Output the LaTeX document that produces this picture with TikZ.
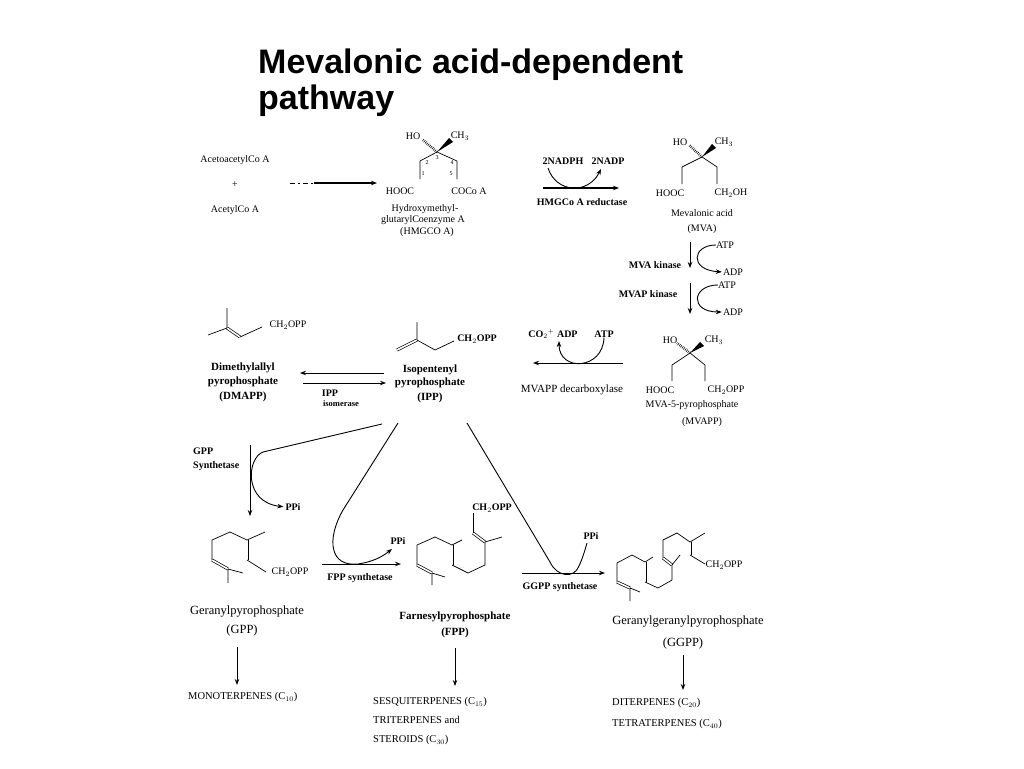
\documentclass[tikz,border=0pt]{standalone}
\usepackage{fontspec}
\setmainfont{Liberation Serif}
\newfontfamily\titlefont{Liberation Sans}
\usetikzlibrary{arrows.meta}

\begin{document}
\begin{tikzpicture}[x=1pt,y=-1pt,>={Stealth[length=6pt,width=4.5pt]},
  lab/.style={inner sep=0pt,font=\fontsize{10}{12}\selectfont},
  blab/.style={inner sep=0pt,font=\fontsize{10}{12}\selectfont\bfseries},
  cname/.style={inner sep=0pt,font=\fontsize{12.5}{14}\selectfont},
  bname/.style={inner sep=0pt,font=\fontsize{11}{13}\selectfont\bfseries},
  prod/.style={inner sep=0pt,anchor=west,font=\fontsize{10.5}{12}\selectfont},
  numlab/.style={inner sep=0pt,font=\fontsize{6}{6}\selectfont},
  bond/.style={line width=0.7pt,line join=round},
  dbl/.style={bond,double,double distance=1.6pt},
  hash/.style={line width=2.6pt,dash pattern=on 0.6pt off 1.2pt},
  rxn/.style={line width=0.9pt}]
\useasboundingbox[fill=white] (0,0) rectangle (1024,768);

% title
\node[anchor=base west,inner sep=0pt,font=\titlefont\bfseries\fontsize{34}{36}\selectfont] (title1) at (258,73) {Mevalonic acid-dependent};
\node[anchor=base west,inner sep=0pt,font=\titlefont\bfseries\fontsize{34}{36}\selectfont] (title2) at (258,109) {pathway};

% plain labels
\foreach \x/\y/\n/\t in {235/160/acac/AcetoacetylCo A, 235/185/plus/+, 235/210/acet/AcetylCo A,
    413/136/hmgho/HO, 460/136/hmgme/CH$_3$, 400/191/hmgl/HOOC, 469/191/hmgr/COCo A,
    425/209/hmgn1/Hydroxymethyl-, 423/220/hmgn2/glutarylCoenzyme A, 427/232/hmgn3/(HMGCO A),
    680/142/mvaho/HO, 724/142/mvame/CH$_3$, 670/193/mval/HOOC, 731/193/mvar/CH$_2$OH,
    702/213/mvan1/Mevalonic acid, 702/229/mvan2/(MVA),
    725/245/atp1/ATP, 733/272/adp1/ADP, 727/285/atp2/ATP, 733/312/adp2/ADP,
    670/340/mvppho/HO, 714/340/mvppme/CH$_3$, 660/390/mvppl/HOOC, 726/390/mvppr/CH$_2$OPP,
    692/405/mvppn1/MVA-5-pyrophosphate, 702/422/mvppn2/(MVAPP),
    288/325/dmch/CH$_2$OPP, 290/572/gpch/CH$_2$OPP, 724/565/ggch/CH$_2$OPP}
  \node[lab] (\n) at (\x,\y) {\t};
\node[lab,font=\fontsize{11}{12}\selectfont] (dec) at (572,390) {MVAPP decarboxylase};

% bold labels
\foreach \x/\y/\n/\t in {563/161/nadph/2NADPH, 608/161/nadp/2NADP, 582/202/red/HMGCo A reductase,
    655/265/kin1/MVA kinase, 648/294/kin2/MVAP kinase,
    553/334/co2/CO$_2$$^+$ ADP, 604/334/atp3/ATP,
    477/339/ipch/CH$_2$OPP, 330/393/iso1/IPP, 293/507/ppi1/PPi,
    398/541/ppi2/PPi, 360/578/fs/FPP synthetase, 492/508/fpch/CH$_2$OPP,
    591/536/ppi3/PPi, 560/587/ggs/GGPP synthetase}
  \node[blab] (\n) at (\x,\y) {\t};
\node[blab,font=\fontsize{8.5}{10}\selectfont\bfseries] (iso2) at (341,404) {isomerase};
\node[blab,anchor=west] (gs1) at (193,451) {GPP};
\node[blab,anchor=west] (gs2) at (193,466) {Synthetase};

% compound names
\foreach \x/\y/\n/\t in {243/368/dmn1/Dimethylallyl, 243/382/dmn2/pyrophosphate, 243/397/dmn3/(DMAPP),
    430/370/ipn1/Isopentenyl, 430/383/ipn2/pyrophosphate, 430/398/ipn3/(IPP),
    455/617/fpn1/Farnesylpyrophosphate, 455/633/fpn2/(FPP)}
  \node[bname] (\n) at (\x,\y) {\t};
\foreach \x/\y/\n/\t in {247/612/gpn1/Geranylpyrophosphate, 242/630/gpn2/(GPP),
    688/622/ggn1/Geranylgeranylpyrophosphate, 683/643/ggn2/(GGPP)}
  \node[cname] (\n) at (\x,\y) {\t};

% products
\foreach \x/\y/\n/\t in {188/697/mono/MONOTERPENES (C$_{10}$), 373/702/sesq/SESQUITERPENES (C$_{15}$),
    373/720/tri/TRITERPENES and, 373/740/ster/STEROIDS (C$_{30}$),
    612/703/di/DITERPENES (C$_{20}$), 612/724/tetra/TETRATERPENES (C$_{40}$)}
  \node[prod] (\n) at (\x,\y) {\t};

% HMGCoA numbering
\foreach \x/\y/\t in {427/163/2, 437/158/3, 452/163/4, 423/174/1, 451/174/5}
  \node[numlab] at (\x,\y) {\t};

% HMGCoA
\coordinate (hmg3) at (437,152);
\draw[bond] (420,179) -- (420,161) -- (hmg3) -- (457,161) -- (457,179);
\draw[hash] (hmg3) -- (423,140);
\fill (hmg3) -- (453,142) -- (449,138) -- cycle;

% mevalonic acid
\coordinate (mva3) at (702,157);
\draw[bond] (682,184) -- (682,167) -- (mva3) -- (717,167) -- (717,184);
\draw[hash] (mva3) -- (689,145);
\fill (mva3) -- (716,148) -- (712,144) -- cycle;

% MVAPP
\coordinate (mvpp3) at (690,353);
\draw[bond] (672,381) -- (672,365) -- (mvpp3) -- (705,365) -- (705,381);
\draw[hash] (mvpp3) -- (677,343);
\fill (mvpp3) -- (704,346) -- (700,342) -- cycle;

% DMAPP
\draw[dbl] (227,328) -- (240,337);
\draw[bond] (208,335) -- (227,328) -- (227,308);
\draw[bond] (240,337) -- (262,327);

% IPP
\draw[dbl] (397,350) -- (417,340);
\draw[bond] (417,322) -- (417,340) -- (435,350) -- (454,341);

% GPP
\draw[dbl] (247,560) -- (247,540);
\draw[dbl] (212,560) -- (228,569);
\draw[bond] (266,572) -- (247,560);
\draw[bond] (265,532) -- (247,540) -- (230,532) -- (212,540) -- (212,560);
\draw[bond] (243,573) -- (228,569) -- (228,583);

% FPP
\draw[dbl] (473,533) -- (485,542);
\draw[dbl] (452,565) -- (452,545);
\draw[dbl] (417,565) -- (432,573);
\draw[bond] (473,513) -- (473,533);
\draw[bond] (502,537) -- (485,542) -- (485,565) -- (468,573) -- (452,565);
\draw[bond] (462,540) -- (452,545) -- (435,537) -- (417,545) -- (417,565);
\draw[bond] (445,577) -- (432,573) -- (432,585);

% GGPP
\draw[dbl] (690,555) -- (690,542);
\draw[dbl] (663,558) -- (672,565);
\draw[dbl] (645,582) -- (645,562);
\draw[dbl] (617,582) -- (630,588);
\draw[bond] (705,564) -- (690,555);
\draw[bond] (705,533) -- (690,542) -- (677,533) -- (663,540) -- (663,558);
\draw[bond] (680,555) -- (672,565) -- (672,580) -- (658,588) -- (645,582);
\draw[bond] (653,557) -- (645,562) -- (632,555) -- (617,563) -- (617,582);
\draw[bond] (640,592) -- (630,588) -- (630,601);

% acetyl CoA -> HMGCoA
\coordinate (a1) at (290,183); \coordinate (a2) at (314,183); \coordinate (a3) at (377,183);
\draw[rxn,dash pattern=on 5pt off 3pt on 2pt off 3pt] (a1) -- (a2);
\draw[->,line width=1.3pt] (a2) -- (a3);

% HMGCoA reductase
\coordinate (r1) at (543,188); \coordinate (r2) at (619,188);
\coordinate (r3) at (548,168); \coordinate (r4) at (601,169);
\draw[->,line width=1.5pt] (r1) -- (r2);
\draw[->,rxn] (r3) .. controls (556,193) and (588,195) .. (r4);

% kinases
\coordinate (k1) at (690,242); \coordinate (k2) at (690,268);
\coordinate (k3) at (690,283); \coordinate (k4) at (690,314);
\draw[->,rxn] (k1) -- (k2);
\draw[->,rxn] (k3) -- (k4);
\draw[->,rxn,shorten >=1pt] (atp1.west) .. controls (692,245) and (689,270) .. (adp1.west);
\draw[->,rxn,shorten >=1pt] (atp2.west) .. controls (692,285) and (689,312) .. (adp2.west);

% MVAPP decarboxylase
\coordinate (d1) at (623,363); \coordinate (d2) at (533,363); \coordinate (d3) at (559,341);
\draw[->,rxn] (d1) -- (d2);
\draw[->,rxn] (atp3.south) .. controls (603,370) and (559,372) .. (d3);

% IPP isomerase
\coordinate (i1) at (384,373); \coordinate (i2) at (300,373);
\coordinate (i3) at (303,383); \coordinate (i4) at (386,383);
\draw[->,rxn] (i1) -- (i2);
\draw[->,rxn] (i3) -- (i4);

% GPP synthetase
\coordinate (g0) at (382,424); \coordinate (g1) at (250,445); \coordinate (g2) at (250,516);
\draw[->,rxn] (g1) -- (g2);
\draw[->,rxn,shorten >=2pt] (g0) -- (263,452) .. controls (247,458) and (243,502) .. (ppi1.west);

% FPP synthetase
\coordinate (f0) at (398,423); \coordinate (f1) at (322,564); \coordinate (f2) at (401,564);
\coordinate (f3) at (392,549);
\draw[->,rxn] (f1) -- (f2);
\draw[->,rxn] (f0) -- (343,510) .. controls (326,540) and (330,567) .. (358,564) .. controls (372,562) and (382,557) .. (f3);

% GGPP synthetase
\coordinate (h0) at (467,423); \coordinate (h1) at (522,573); \coordinate (h2) at (605,573);
\coordinate (h3) at (587,543);
\draw[->,rxn] (h1) -- (h2);
\draw[rxn] (h0) -- (550,562) .. controls (557,577) and (574,579) .. (579,566) .. controls (583,557) and (585,550) .. (h3);

% to terpenes
\coordinate (t1) at (237,647); \coordinate (t2) at (237,685);
\coordinate (t3) at (455,648); \coordinate (t4) at (455,686);
\coordinate (t5) at (683,655); \coordinate (t6) at (683,690);
\draw[->,rxn] (t1) -- (t2);
\draw[->,rxn] (t3) -- (t4);
\draw[->,rxn] (t5) -- (t6);

\end{tikzpicture}
\end{document}
